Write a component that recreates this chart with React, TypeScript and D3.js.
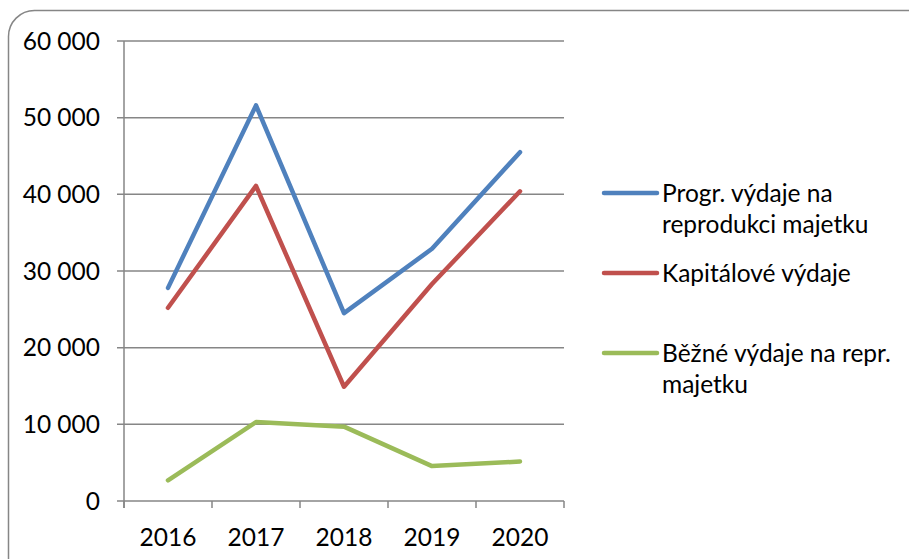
import React from 'react';
import * as d3 from 'd3';

// roky a hodnoty
const years = ['2016', '2017', '2018', '2019', '2020'];
const progr = [27800, 51600, 24500, 32900, 45500];
const kapital = [25200, 41100, 14900, 28300, 40400];
const bezne = [2700, 10300, 9700, 4550, 5150];
const yTicks = [0, 10000, 20000, 30000, 40000, 50000, 60000];

const series = [
  { name: ['Progr. výdaje na', 'reprodukci majetku'], values: progr, color: '#4F81BD' },
  { name: ['Kapitálové výdaje'], values: kapital, color: '#C0504D' },
  { name: ['Běžné výdaje na repr.', 'majetku'], values: bezne, color: '#9BBB59' },
];

const legendY = [193, 273, 353];

const App = () => {
  const width = 909;
  const height = 559;
  const plot = { left: 124, right: 564, top: 41, bottom: 501 };

  const x = d3.scaleBand().domain(years).range([plot.left, plot.right]);
  const y = d3.scaleLinear().domain([0, 60000]).range([plot.bottom, plot.top]);

  const line = d3.line<number>()
    .x((_, i) => x(years[i])! + x.bandwidth() / 2)
    .y(d => y(d));

  const fmt = (v: number) => d3.format(',')(v).replace(/,/g, ' ');
  const grid = '#868686';
  const font = 'Lato, Carlito, Calibri, sans-serif';
  const fs = 24.5;

  return (
    <svg width={width} height={height} style={{ position: 'absolute', left: 0, top: 0 }}
      fontFamily={font}>
      <rect x={8.5} y={10.5} width={960} height={600} rx={26} fill="#fff" stroke={grid} strokeWidth={1.5} />

      {/* mřížka a osa y */}
      {yTicks.map(t => (
        <g key={t}>
          <line x1={plot.left - 7} x2={plot.right} y1={y(t)} y2={y(t)} stroke={grid} strokeWidth={1.5} />
          <text x={100} y={y(t)} dy="0.35em" textAnchor="end" fontSize={fs} fill="#000">{fmt(t)}</text>
        </g>
      ))}
      <line x1={plot.left} x2={plot.left} y1={plot.top} y2={plot.bottom + 7} stroke={grid} strokeWidth={1.5} />

      {/* osa x */}
      {[...years.map(d => x(d)!), plot.right].map((px, i) => (
        <line key={i} x1={px} x2={px} y1={plot.bottom} y2={plot.bottom + 7} stroke={grid} strokeWidth={1.5} />
      ))}
      {years.map(d => (
        <text key={d} x={x(d)! + x.bandwidth() / 2} y={537} dy="0.35em" textAnchor="middle" fontSize={fs} fill="#000">{d}</text>
      ))}

      {/* řady */}
      {series.map(s => (
        <path key={s.color} d={line(s.values)!} fill="none" stroke={s.color} strokeWidth={4.5}
          strokeLinejoin="round" strokeLinecap="round" />
      ))}

      {/* legenda */}
      {series.map((s, i) => (
        <g key={s.color} transform={`translate(0,${legendY[i]})`}>
          <line x1={604} x2={657} y1={0} y2={0} stroke={s.color} strokeWidth={4.5} strokeLinecap="round" />
          {s.name.map((t, j) => (
            <text key={j} x={662} y={j * 31} dy="0.35em" fontSize={fs} fill="#000">{t}</text>
          ))}
        </g>
      ))}
    </svg>
  );
};

export default App;
